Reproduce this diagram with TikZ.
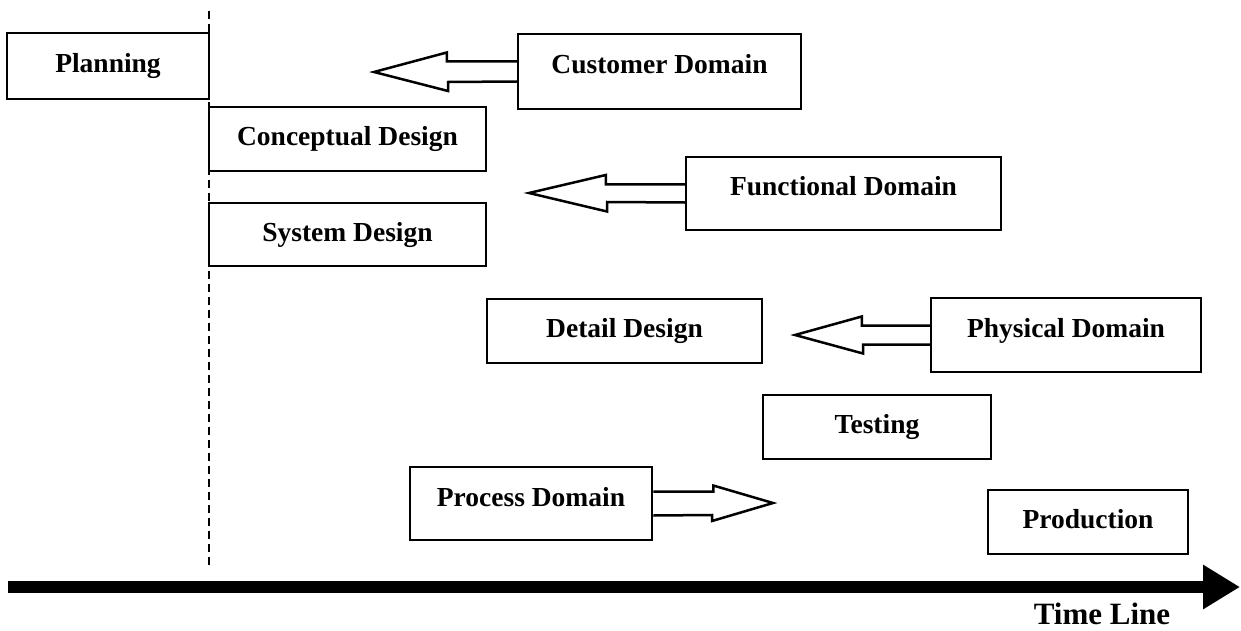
\documentclass[tikz,border=0pt]{standalone}
\usepackage{fontspec}
\setmainfont{Liberation Serif}
\usetikzlibrary{arrows.meta}

\begin{document}
\begin{tikzpicture}[x=1pt,y=-1pt,
    stagebox/.style={draw,line width=2.5pt,inner sep=0pt,text height=19pt,text depth=6pt,
      font=\fontsize{27.5}{30}\selectfont\bfseries},
    domainbox/.style={stagebox,text depth=14pt},
    block/.style={draw,line width=2.5pt,line join=miter},
    timeline/.style={line width=12pt,-{Triangle[length=37pt,width=42pt]}},
    milestone/.style={line width=1.5pt,dash pattern=on 8pt off 5pt}]
    \useasboundingbox (0,0) rectangle (1241,631);
    %design stages
    \node [stagebox,minimum width=202pt,minimum height=66pt] (plan) at (108,66) {Planning};
    \node [stagebox,minimum width=277pt,minimum height=64pt] (concept) at (347.5,139) {Conceptual Design};
    \node [stagebox,minimum width=277pt,minimum height=63pt] (system) at (347.5,234.5) {System Design};
    \node [stagebox,minimum width=275pt,minimum height=64pt] (detail) at (624.5,331) {Detail Design};
    \node [stagebox,minimum width=228pt,minimum height=64pt] (testing) at (877,427) {Testing};
    \node [stagebox,minimum width=200pt,minimum height=64pt] (prod) at (1088,522) {Production};
    %domains
    \node [domainbox,minimum width=283pt,minimum height=75pt] (cust) at (659.5,71.5) {Customer Domain};
    \node [domainbox,minimum width=315pt,minimum height=73pt] (func) at (843.5,193.5) {Functional Domain};
    \node [domainbox,minimum width=270pt,minimum height=74pt] (phys) at (1066,335) {Physical Domain};
    \node [domainbox,minimum width=242pt,minimum height=73pt] (proc) at (531,503.5) {Process Domain};
    %block arrows
    \coordinate (custtip) at (374,72);
    \coordinate (functip) at (529,193);
    \coordinate (phystip) at (795,335);
    \coordinate (proctip) at (773,503);
    \draw [block] ([yshift=10pt]cust.west) -- ++(-70,0) -- ++(0,-9) -- (custtip) -- ++(74,19) -- ++(0,-9) -- ([yshift=-10pt]cust.west);
    \draw [block] ([yshift=9pt]func.west) -- ++(-79,0) -- ++(0,-9.5) -- (functip) -- ++(78,18.5) -- ++(0,-9.5) -- ([yshift=-9pt]func.west);
    \draw [block] ([yshift=9.5pt]phys.west) -- ++(-68,0) -- ++(0,-9) -- (phystip) -- ++(68,18.5) -- ++(0,-9) -- ([yshift=-9.5pt]phys.west);
    \draw [block] ([yshift=12pt]proc.east) -- ++(60,0) -- ++(0,-6) -- (proctip) -- ++(-61,18) -- ++(0,-6) -- ([yshift=-12pt]proc.east);
    %planning boundary
    \coordinate (dtop) at (209,11);
    \coordinate (dbot) at (209,565);
    \draw [milestone] (dtop) -- (dbot);
    %time line
    \coordinate (tstart) at (8,587);
    \coordinate (tend) at (1240,587);
    \draw [timeline] (tstart) -- (tend);
    \node [font=\fontsize{31}{34}\selectfont\bfseries] (tlabel) at (1102,614) {Time Line};
  \end{tikzpicture}
\end{document}
